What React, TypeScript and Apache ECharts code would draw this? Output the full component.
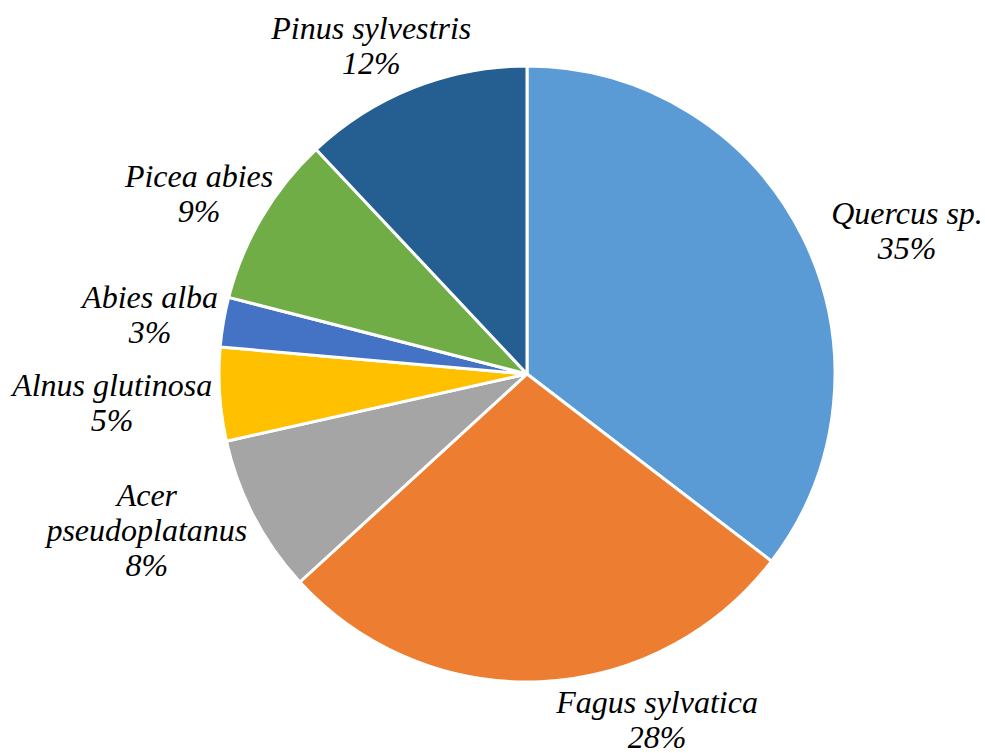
import React, { useEffect, useRef } from "react";
import * as echarts from "echarts";

const species = [
  "Quercus sp.",
  "Fagus sylvatica",
  "Acer\npseudoplatanus",
  "Alnus glutinosa",
  "Abies alba",
  "Picea abies",
  "Pinus sylvestris",
];
const shares = [35.4, 27.8, 8.3, 4.9, 2.6, 9.0, 12.0];
const colors = ["#5B9BD5", "#ED7D31", "#A5A5A5", "#FFC000", "#4472C4", "#70AD47", "#255E91"];

// label anchor placement (angle clockwise from top in degrees, distance as fraction of radius)
const labelAngles = [69.3, 159.4, 247.7, 266.1, 279.0, 298.8, 334.6];
const labelDist = [1.319, 1.2, 1.334, 1.35, 1.239, 1.215, 1.179];

const CX = 527;
const CY = 374;
const R = 308;

export default function App() {
  const ref = useRef<HTMLDivElement>(null);
  useEffect(() => {
    if (!ref.current) return;
    const chart = echarts.init(ref.current, undefined, { renderer: "svg" });
    chart.setOption({
      animation: false,
      backgroundColor: "#ffffff",
      series: [
        {
          type: "pie",
          center: [CX, CY],
          radius: R,
          startAngle: 90,
          clockwise: true,
          avoidLabelOverlap: false,
          itemStyle: { borderColor: "#ffffff", borderWidth: 3 },
          label: {
            show: true,
            position: "outside",
            formatter: (p: any) => `${p.name}\n${Math.round(p.percent)}%`,
            fontFamily: "Liberation Serif",
            fontStyle: "italic",
            fontSize: 32,
            lineHeight: 35,
            color: "#000000",
            align: "center",
          },
          labelLine: { show: false, length: 15, length2: 0 },
          labelLayout: (params: any) => {
            const i = params.dataIndex;
            const a = (labelAngles[i] * Math.PI) / 180;
            const d = labelDist[i] * R;
            return {
              x: CX + Math.sin(a) * d,
              y: CY - Math.cos(a) * d,
              align: "center",
              verticalAlign: "middle",
            };
          },
          data: species.map((name, i) => ({
            name,
            value: shares[i],
            itemStyle: { color: colors[i] },
          })),
        },
      ],
    });
    return () => chart.dispose();
  }, []);
  return (
    <div
      ref={ref}
      style={{ position: "fixed", left: 0, top: 0, width: 985, height: 753 }}
    />
  );
}
